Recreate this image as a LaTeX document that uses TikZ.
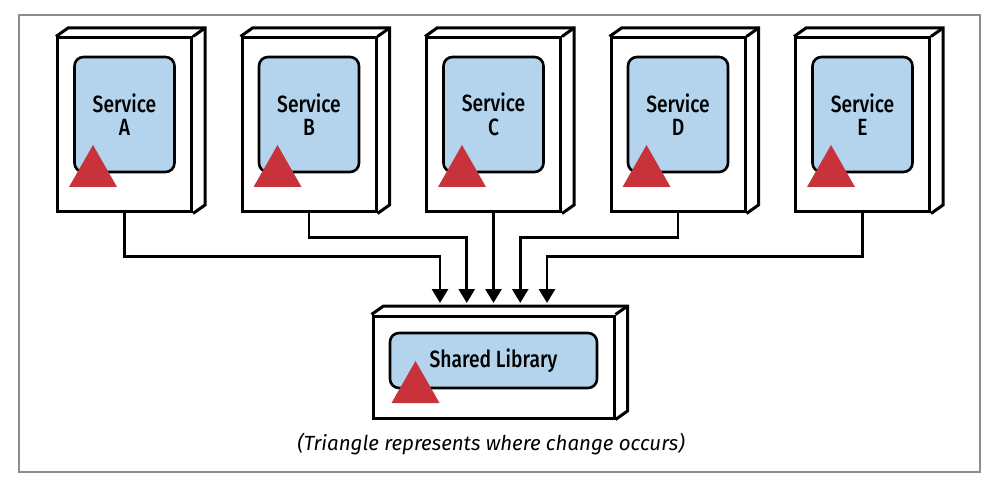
\documentclass[tikz,border=0pt]{standalone}
\usepackage{fontspec}
\setmainfont{Fira Sans}
\newfontfamily\narrowfont{Fira Sans Medium}[FakeStretch=0.82]
\usetikzlibrary{arrows.meta, positioning, calc}

\definecolor{libblue}{HTML}{B3D4EC}
\definecolor{changered}{HTML}{C8323A}
\definecolor{framegray}{HTML}{8C8C8C}

\tikzset{
  svcbox/.style={draw, fill=white, line width=3pt, minimum width=134pt, minimum height=174pt},
  libbox/.style={draw, fill=white, line width=3pt, minimum width=241pt, minimum height=102pt},
  inbox/.style={draw, fill=libblue, line width=2.6pt, rounded corners=9pt, align=center,
    font=\narrowfont\fontsize{23.5}{23.5}\selectfont},
  edge/.style={line width=3pt, line join=miter},
  link/.style={line width=2.8pt, -{Triangle[width=16pt, length=14pt]}},
  change/.style={fill=changered}
}

\begin{document}
\begin{tikzpicture}[x=1pt, y=-1pt]
  \useasboundingbox (0,0) rectangle (992,486);
  \draw[framegray, line width=1.2pt] (19,15) rectangle (980,472);

  % service boxes
  \foreach \l [count=\i from 0] in {A,B,C,D,E} {
    \node[svcbox] (s\l) at (124.5+184.5*\i,125) {};
    \draw[edge] (s\l.north west) -- ++(12,-8.5) -| ($(s\l.south east)+(12,-8.5)$) -- (s\l.south east);
    \draw[edge] (s\l.north east) -- ++(12,-8.5);
    \node[inbox, minimum width=100pt, minimum height=115pt] (i\l) at ($(s\l)+(0,-10.5)$) {Service\\\l};
    \fill[change] ($(s\l)+(-55.5,62)$) -- ++(48,0) -- ++(-24,-42) -- cycle;
  }

  % shared library
  \node[libbox] (lib) at (493.5,367) {};
  \draw[edge] (lib.north west) -- ++(12,-8.5) -| ($(lib.south east)+(12,-8.5)$) -- (lib.south east);
  \draw[edge] (lib.north east) -- ++(12,-8.5);
  \node[inbox, minimum width=207pt, minimum height=55pt] (ilib) at ($(lib)+(0,-6.5)$) {Shared Library};
  \fill[change] ($(lib)+(-102,36)$) -- ++(48,0) -- ++(-24,-42) -- cycle;

  % arrow targets
  \foreach \l [count=\i from 0] in {A,B,C,D,E}
    \coordinate (t\l) at (440+26.75*\i,303);

  \draw[link] (sA.south) -- ++(0,43) -| (tA);
  \draw[link] (sB.south) -- ++(0,24) -| (tB);
  \draw[link] (sC.south) -- (tC);
  \draw[link] (sD.south) -- ++(0,24) -| (tD);
  \draw[link] (sE.south) -- ++(0,43) -| (tE);

  \node[font=\fontsize{20.5}{24}\selectfont\itshape] (note) at (491,444) {(Triangle represents where change occurs)};
\end{tikzpicture}
\end{document}
